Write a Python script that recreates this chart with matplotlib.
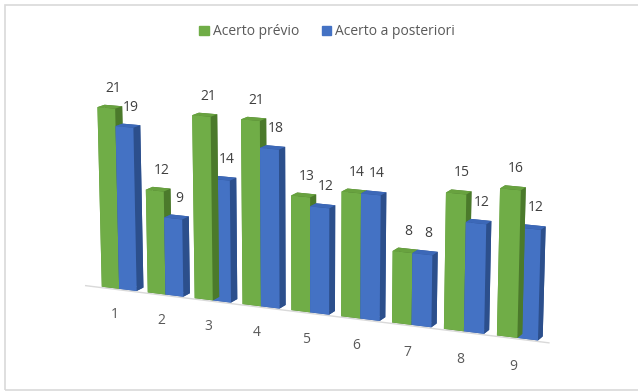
import matplotlib
matplotlib.use("Agg")
import matplotlib.pyplot as plt
from matplotlib.patches import Patch, Rectangle
from mpl_toolkits.mplot3d import proj3d

plt.rcParams['font.family'] = ['Open Sans', 'DejaVu Sans']

# dados
categorias = ['1', '2', '3', '4', '5', '6', '7', '8', '9']
acerto_previo = [21, 12, 21, 21, 13, 14, 8, 15, 16]
acerto_posteriori = [19, 9, 14, 18, 12, 14, 8, 12, 12]

verde = '#70AD47'
azul = '#4472C4'
# faces: baixo, topo, frente, trás, esquerda, direita
cores_verde = ['#4E7A30', '#68A23F', verde, '#4E7A30', '#5E9A38', '#4B7A2B']
cores_azul = ['#2F5597', '#3C68B8', azul, '#2F5597', '#3A63AE', '#2C4F8C']

fig = plt.figure(figsize=(6.38, 3.91), dpi=100)
fig.patches.append(Rectangle((5 / 638, 1 / 391), 1.1, (385 / 391), transform=fig.transFigure,
                             fill=False, edgecolor='#d9d9d9', linewidth=1.2))

ax = fig.add_axes([-0.018, -0.072, 1.0, 1.0], projection='3d')
ax.set_proj_type('persp', focal_length=1.0)
ax.view_init(elev=13.5, azim=-66)
ax.set_box_aspect((9.2, 0.6, 3.5), zoom=1.343)
ax.set_xlim(-0.6, 8.6)
ax.set_ylim(0, 1)
ax.set_zlim(0, 21)
ax.set_axis_off()

M = ax.get_proj()


def rotulo(x, y, z, s, **kw):
    # texto 2D na posição projetada do ponto 3D
    x2, y2, _ = proj3d.proj_transform(x, y, z, M)
    ax.text2D(x2, y2, s, transform=ax.transData, **kw)


largura = 0.38
prof = 0.45
for i in range(len(categorias)):
    ax.bar3d(i - largura, 0.3, 0, largura, prof, acerto_previo[i],
             color=cores_verde, shade=False, linewidth=0)
    ax.bar3d(i, 0.3, 0, largura, prof, acerto_posteriori[i],
             color=cores_azul, shade=False, linewidth=0)
    rotulo(i - largura / 2, 0.75, acerto_previo[i] + 1.1, str(acerto_previo[i]),
           ha='center', va='bottom', fontsize=10, color='#404040')
    rotulo(i + largura / 2, 0.75, acerto_posteriori[i] + 1.1, str(acerto_posteriori[i]),
           ha='center', va='bottom', fontsize=10, color='#404040')
    rotulo(i, 0, -2.8, categorias[i], ha='center', va='center', fontsize=10, color='#595959')

ax.plot([-0.7, 8.6], [0.2, 0.2], [0, 0], color='#d9d9d9', linewidth=1)

for art in ax.collections + ax.lines:
    art.set_clip_on(False)

fig.legend(handles=[Patch(color=verde, label='Acerto prévio'),
                    Patch(color=azul, label='Acerto a posteriori')],
           loc='upper center', bbox_to_anchor=(0.513, 0.97), ncol=2, frameon=False,
           fontsize=10, handlelength=0.7, handleheight=0.7, handletextpad=0.3,
           columnspacing=1.6, labelcolor='#595959')

fig.savefig('out.png', dpi=100)
